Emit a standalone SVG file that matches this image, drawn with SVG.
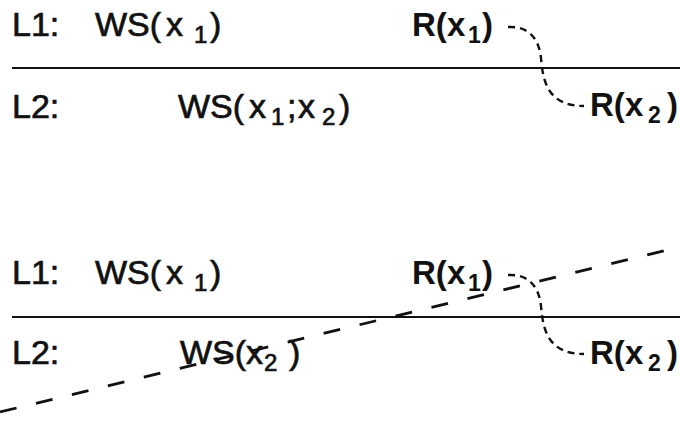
<svg xmlns="http://www.w3.org/2000/svg" width="680" height="421" viewBox="0 0 680 421">
<style>
.t{font-family:"Liberation Sans",Arial,sans-serif;font-size:34px;fill:#111;stroke:#111;stroke-width:0.7}
.b{font-family:"Liberation Sans",Arial,sans-serif;font-size:33px;font-weight:bold;fill:#111}
.s{font-size:24px}
.sb{font-size:23px}
.sep{stroke:#111;stroke-width:2;fill:none}
.dot{stroke:#111;stroke-width:2.4;fill:none;stroke-dasharray:7 5}
.dash{stroke:#111;stroke-width:2.8;fill:none;stroke-dasharray:17 20}
</style>
<rect width="680" height="421" fill="#fff"/>
<g id="separators">
<line class="sep" x1="12" y1="68" x2="680" y2="68"/>
<line class="sep" x1="12" y1="317" x2="680" y2="317"/>
</g>
<g id="top-L1"><text class="t" x="12" y="36">L1:</text></g>
<g id="top-WS1"><text class="t"><tspan x="95" y="36">WS(</tspan><tspan x="166" y="36">x</tspan><tspan class="s" x="194" y="43">1</tspan><tspan x="210" y="36">)</tspan></text></g>
<g id="top-R1"><text class="b"><tspan x="412" y="36">R(</tspan><tspan x="447" y="36">x</tspan><tspan class="sb" x="468" y="43">1</tspan><tspan x="482" y="36">)</tspan></text></g>
<g id="top-L2"><text class="t" x="12" y="118">L2:</text></g>
<g id="top-WS12"><text class="t"><tspan x="178" y="118">WS(</tspan><tspan x="249" y="118">x</tspan><tspan class="s" x="271" y="125">1</tspan><tspan x="287" y="118">;</tspan><tspan x="298" y="118">x</tspan><tspan class="s" x="322" y="125">2</tspan><tspan x="339" y="118">)</tspan></text></g>
<g id="top-R2"><text class="b"><tspan x="590" y="116">R(</tspan><tspan x="625" y="116">x</tspan><tspan class="sb" x="648" y="123">2</tspan><tspan x="667" y="116">)</tspan></text></g>
<g id="bot-L1"><text class="t" x="12" y="284">L1:</text></g>
<g id="bot-WS1"><text class="t"><tspan x="95" y="284">WS(</tspan><tspan x="166" y="284">x</tspan><tspan class="s" x="194" y="291">1</tspan><tspan x="210" y="284">)</tspan></text></g>
<g id="bot-R1"><text class="b"><tspan x="412" y="284">R(</tspan><tspan x="447" y="284">x</tspan><tspan class="sb" x="468" y="291">1</tspan><tspan x="482" y="284">)</tspan></text></g>
<g id="bot-L2"><text class="t" x="12" y="364">L2:</text></g>
<g id="bot-WS2"><text class="t"><tspan x="180" y="364">WS(</tspan><tspan x="246" y="364">x</tspan><tspan class="s" x="264" y="371">2</tspan><tspan x="289" y="364">)</tspan></text></g>
<g id="bot-R2"><text class="b"><tspan x="590" y="364">R(</tspan><tspan x="625" y="364">x</tspan><tspan class="sb" x="648" y="371">2</tspan><tspan x="667" y="364">)</tspan></text></g>
<g id="connectors">
<path class="dot" d="M508,27 C530,26 539,40 541,58 C543,82 548,106 584,106"/>
<path class="dot" d="M508,275 C530,274 539,288 541,306 C543,330 548,354 584,354"/>
<path class="dash" d="M0,412 L680,247"/>
</g>
</svg>
